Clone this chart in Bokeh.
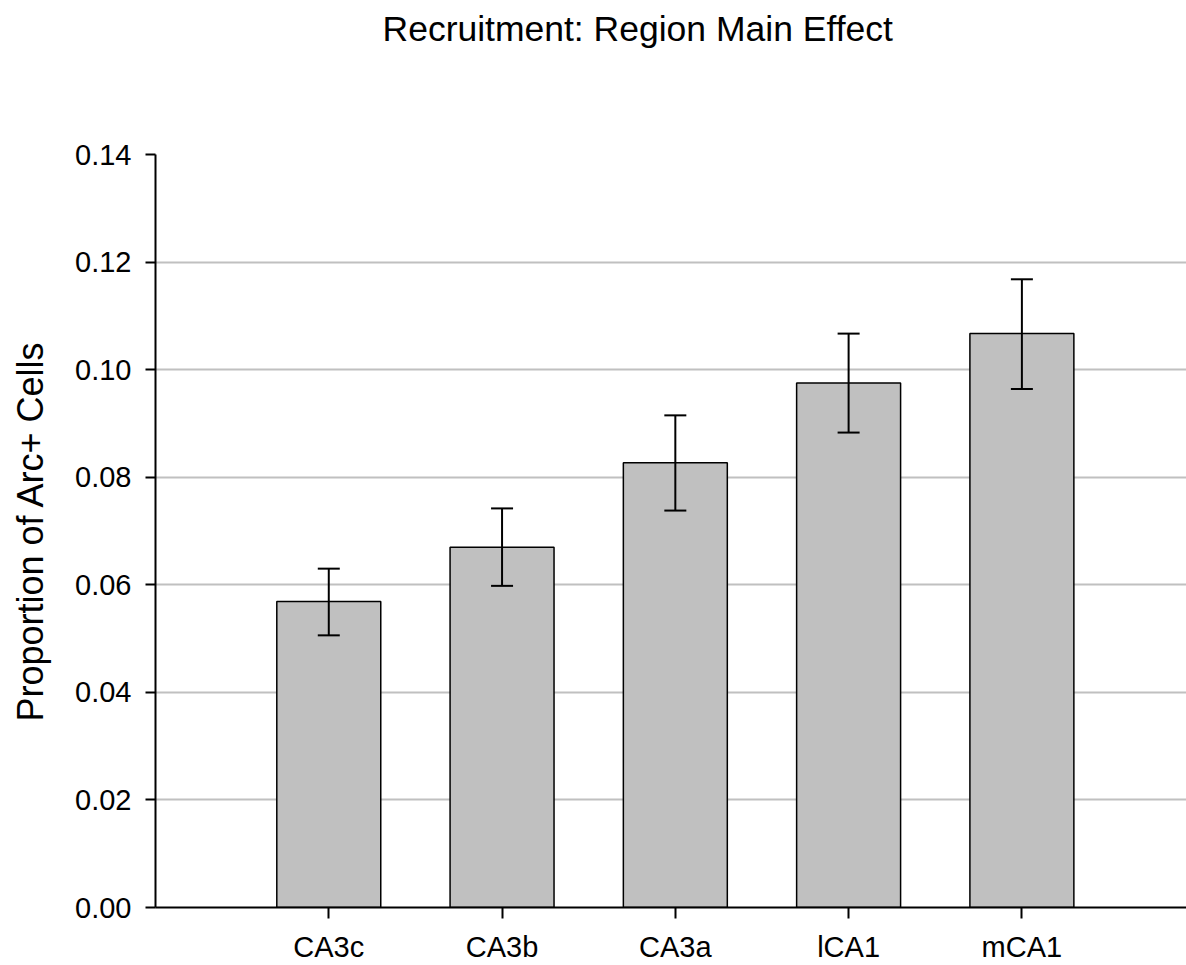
from bokeh.plotting import figure
from bokeh.models import ColumnDataSource, Whisker, TeeHead, FixedTicker, Range1d, NumeralTickFormatter, Title
from bokeh.embed import file_html
from bokeh.resources import INLINE

regions = ["CA3c", "CA3b", "CA3a", "lCA1", "mCA1"]
means = [0.0569, 0.0670, 0.0827, 0.0975, 0.1067]
lower = [0.0506, 0.0598, 0.0738, 0.0883, 0.0964]
upper = [0.0630, 0.0742, 0.0915, 0.1067, 0.1168]
y_ticks = [0.00, 0.02, 0.04, 0.06, 0.08, 0.10, 0.12, 0.14]
title_text = "Recruitment: Region Main Effect"

xs = list(range(1, len(regions) + 1))
src = ColumnDataSource(dict(x=xs, top=means, lower=lower, upper=upper))

FONT = "Liberation Sans"

p = figure(frame_width=1031, frame_height=753, output_backend="svg", toolbar_location=None,
           x_range=Range1d(0, 5.95), y_range=Range1d(0, 0.14),
           min_border_left=155, min_border_right=0, min_border_top=154, min_border_bottom=58)
p.title = None
p.outline_line_color = None
p.background_fill_color = "white"
p.border_fill_color = "white"

# spacer between frame and title, then the title itself
spacer = Title(text=" ", text_font=FONT, text_font_size="80px", standoff=10)
p.add_layout(spacer, "above")
t = Title(text=title_text, text_font=FONT, text_font_size="35.5px", text_font_style="normal",
          text_color="black", align="left", offset=227, standoff=10)
p.add_layout(t, "above")

p.vbar(x="x", top="top", width=0.6, source=src, fill_color="#c0c0c0",
       line_color="black", line_width=1.5)

w = Whisker(base="x", lower="lower", upper="upper", source=src, level="overlay",
            line_color="black", line_width=2,
            upper_head=TeeHead(size=22, line_color="black", line_width=2),
            lower_head=TeeHead(size=22, line_color="black", line_width=2))
p.add_layout(w)

# x axis
p.xaxis.ticker = FixedTicker(ticks=xs)
p.xaxis.major_label_overrides = {x: r for x, r in zip(xs, regions)}
p.xaxis.minor_tick_line_color = None
p.xaxis.major_tick_in = 0
p.xaxis.major_tick_out = 11
p.xaxis.axis_line_width = 2
p.xaxis.major_tick_line_width = 2
p.xaxis.major_label_text_font = FONT
p.xaxis.major_label_text_font_size = "29px"
p.xaxis.major_label_text_color = "black"
p.xaxis.major_label_standoff = 12

# y axis
p.yaxis.ticker = FixedTicker(ticks=y_ticks)
p.yaxis.formatter = NumeralTickFormatter(format="0.00")
p.yaxis.minor_tick_line_color = None
p.yaxis.major_tick_in = 0
p.yaxis.major_tick_out = 10
p.yaxis.axis_line_width = 2
p.yaxis.major_tick_line_width = 2
p.yaxis.major_label_text_font = FONT
p.yaxis.major_label_text_font_size = "29px"
p.yaxis.major_label_text_color = "black"
p.yaxis.major_label_standoff = 14
p.yaxis.axis_label = "Proportion of Arc+ Cells"
p.yaxis.axis_label_text_font = FONT
p.yaxis.axis_label_text_font_size = "36px"
p.yaxis.axis_label_text_font_style = "normal"
p.yaxis.axis_label_text_color = "black"
p.yaxis.axis_label_standoff = 21

p.xgrid.grid_line_color = None
p.ygrid.ticker = FixedTicker(ticks=y_ticks)
p.ygrid.grid_line_color = "#c0c0c0"
p.ygrid.grid_line_width = 2

open("out.html", "w").write(file_html(p, INLINE))
